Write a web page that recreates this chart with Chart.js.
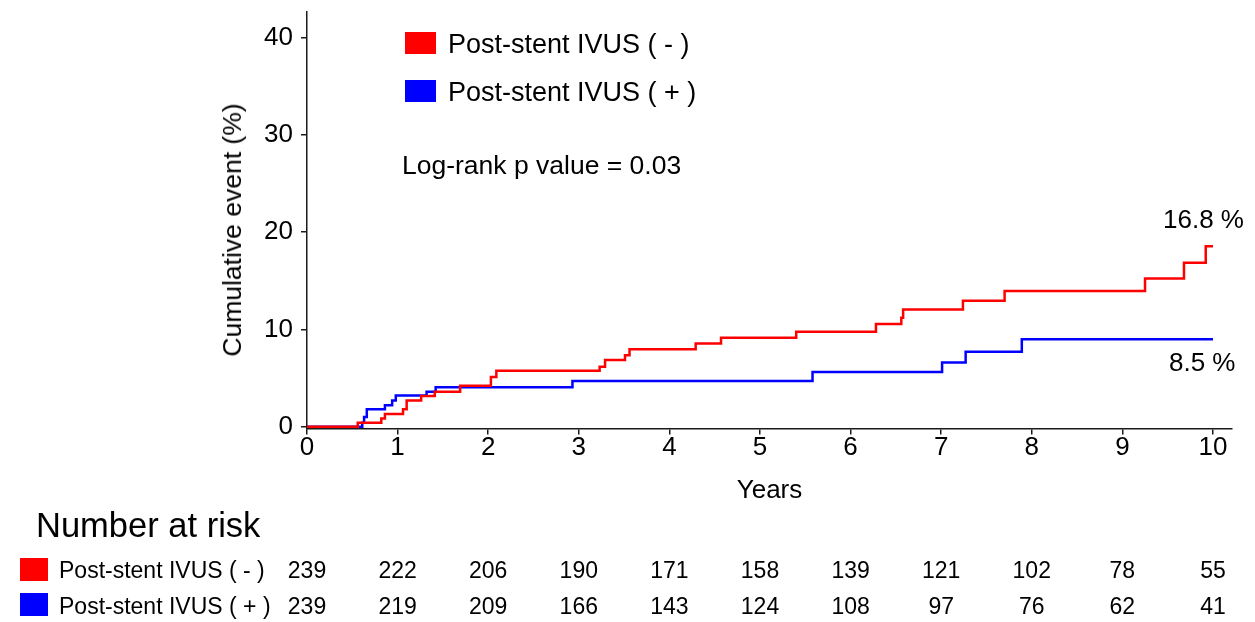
<!DOCTYPE html>
<html>
<head>
<meta charset="utf-8">
<script src="https://cdn.jsdelivr.net/npm/chart.js@4.4.1/dist/chart.umd.min.js"></script>
<style>
  html, body { margin: 0; padding: 0; background: #ffffff; }
  #wrap { position: relative; width: 1255px; height: 622px; overflow: hidden;
          font-family: 'Liberation Sans', Arial, sans-serif; color: #000; }
  #c { position: absolute; left: 0; top: 0; }
  .t { position: absolute; white-space: nowrap; }
  .box { position: absolute; }
  .rot { position: absolute; white-space: nowrap; transform: translate(-50%, -50%) rotate(-90deg); }
</style>
</head>
<body>
<div id="wrap">
  <canvas id="c" width="1255" height="622"></canvas>
</div>
<script>
// ---- data ----
const seriesNames = ['Post-stent IVUS ( - )', 'Post-stent IVUS ( + )'];
const seriesColors = ['#ff0000', '#0000ff'];

const redTimes  = [0, 0.56, 0.82, 0.86, 1.06, 1.10, 1.26, 1.41, 1.69, 2.03, 2.09, 3.23, 3.29, 3.51, 3.56, 4.29, 4.57, 5.40, 6.28, 6.56, 6.58, 7.24, 7.70, 9.25, 9.68, 9.92, 10.0];
const redValues = [0, 0.4, 0.84, 1.3, 1.8, 2.7, 3.15, 3.6, 4.2, 5.1, 5.75, 6.15, 6.85, 7.35, 7.95, 8.55, 9.15, 9.75, 10.55, 11.2, 12.05, 12.95, 13.95, 15.25, 16.85, 18.55, 18.55];

const blueTimes  = [0, 0.61, 0.63, 0.66, 0.86, 0.94, 0.98, 1.32, 1.42, 2.93, 5.58, 7.01, 7.27, 7.89, 10.0];
const blueValues = [0, 0.4, 1.0, 1.8, 2.2, 2.7, 3.2, 3.6, 4.05, 4.7, 5.62, 6.6, 7.7, 9.0, 9.0];

const xTickValues = [0, 1, 2, 3, 4, 5, 6, 7, 8, 9, 10];
const yTickValues = [0, 10, 20, 30, 40];

const riskTimes = [0, 1, 2, 3, 4, 5, 6, 7, 8, 9, 10];
const riskRed   = [239, 222, 206, 190, 171, 158, 139, 121, 102, 78, 55];
const riskBlue  = [239, 219, 209, 166, 143, 124, 108, 97, 76, 62, 41];

const endLabels = ['16.8 %', '8.5 %'];
const pValueText = 'Log-rank p value = 0.03';
const riskTitle = 'Number at risk';
const xTitle = 'Years';
const yTitle = 'Cumulative event (%)';

// ---- chart ----
Chart.defaults.font.family = "'Liberation Sans', Arial, sans-serif";
Chart.defaults.color = '#000';

function toPoints(ts, vs) { return ts.map((t, i) => ({ x: t, y: vs[i] })); }

const axisColor = '#1a1a1a';

const chart = new Chart(document.getElementById('c'), {
  type: 'line',
  data: {
    datasets: [
      { label: seriesNames[0], data: toPoints(redTimes, redValues), borderColor: seriesColors[0],
        backgroundColor: seriesColors[0], borderWidth: 2.5, pointRadius: 0, stepped: true, fill: false },
      { label: seriesNames[1], data: toPoints(blueTimes, blueValues), borderColor: seriesColors[1],
        backgroundColor: seriesColors[1], borderWidth: 2.5, pointRadius: 0, stepped: true, fill: false }
    ]
  },
  options: {
    responsive: false,
    animation: false,
    events: [],
    layout: { padding: { left: 214.4, right: 23, top: 12, bottom: 115.4 } },
    plugins: { legend: { display: false }, tooltip: { enabled: false } },
    scales: {
      x: {
        type: 'linear', min: 0, max: 10.21,
        afterBuildTicks: s => { s.ticks = xTickValues.map(v => ({ value: v })); },
        afterFit: s => { s.height = 78; s.paddingLeft = 0; s.paddingRight = 0; },
        grid: { display: true, drawOnChartArea: false, drawTicks: true, tickLength: 6, color: axisColor, lineWidth: 1.5 },
        border: { display: true, color: axisColor, width: 1.5 },
        ticks: { font: { size: 26, lineHeight: 1 }, padding: 0, color: '#000', maxRotation: 0, autoSkip: false },
        title: { display: true, text: xTitle, font: { size: 26 }, padding: { top: 0, bottom: 0 }, color: '#000' }
      },
      y: {
        type: 'linear', min: -0.2, max: 42.65,
        afterBuildTicks: s => { s.ticks = yTickValues.map(v => ({ value: v })); },
        afterFit: s => { s.width = 92.6; s.paddingTop = 0; s.paddingBottom = 0; },
        grid: { display: true, drawOnChartArea: false, drawTicks: true, tickLength: 6, color: axisColor, lineWidth: 1.5 },
        border: { display: true, color: axisColor, width: 1.5 },
        ticks: { font: { size: 26, lineHeight: 1 }, padding: 8, color: '#000' },
        title: { display: false }
      }
    }
  }
});

// ---- overlay texts ----
const wrap = document.getElementById('wrap');
function addText(txt, left, centerY, size, align) {
  const d = document.createElement('div');
  d.className = 't';
  d.textContent = txt;
  const lh = Math.round(size * 1.3);
  d.style.fontSize = size + 'px';
  d.style.lineHeight = lh + 'px';
  d.style.top = (centerY - lh / 2) + 'px';
  if (align === 'center') {
    d.style.left = (left - 100) + 'px';
    d.style.width = '200px';
    d.style.textAlign = 'center';
  } else {
    d.style.left = left + 'px';
  }
  wrap.appendChild(d);
  return d;
}
function addBox(color, left, top, w, h) {
  const b = document.createElement('div');
  b.className = 'box';
  b.style.background = color;
  b.style.left = left + 'px'; b.style.top = top + 'px';
  b.style.width = w + 'px'; b.style.height = h + 'px';
  wrap.appendChild(b);
}

// y axis title (rotated)
const yt = document.createElement('div');
yt.className = 'rot';
yt.textContent = yTitle;
yt.style.fontSize = '26.5px';
yt.style.lineHeight = '32px';
yt.style.left = '231.5px';
yt.style.top = '230px';
wrap.appendChild(yt);

// legend
addBox(seriesColors[0], 405, 32, 31, 22);
addText(seriesNames[0], 448, 44, 27);
addBox(seriesColors[1], 405, 80, 31, 22);
addText(seriesNames[1], 448, 92, 27);
// p value
addText(pValueText, 402, 165, 26.5);
// end labels
addText(endLabels[0], 1163, 219, 26);
addText(endLabels[1], 1169, 362, 26);

// number at risk table
addText(riskTitle, 36, 525, 34.5);
addBox(seriesColors[0], 20, 558, 28, 23);
addText(seriesNames[0], 59, 570, 23);
addBox(seriesColors[1], 20, 593, 28, 23);
addText(seriesNames[1], 59, 606, 23);
const xs = chart.scales.x;
riskTimes.forEach((t, i) => {
  const px = xs.getPixelForValue(t);
  addText(String(riskRed[i]), px, 570, 23, 'center');
  addText(String(riskBlue[i]), px, 606, 23, 'center');
});
</script>
</body>
</html>
